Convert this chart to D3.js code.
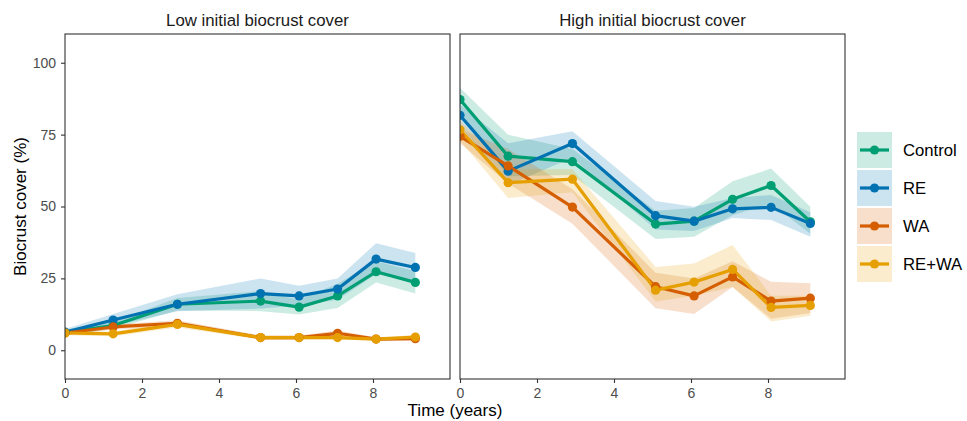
<!DOCTYPE html>
<html>
<head>
<meta charset="utf-8">
<script src="https://cdnjs.cloudflare.com/ajax/libs/d3/7.8.5/d3.min.js"></script>
<style>
  body { margin: 0; background: #fff; }
  svg { font-family: "Liberation Sans", Arial, sans-serif; }
</style>
</head>
<body>
<svg id="chart" width="967" height="421"></svg>
<script>
// time points (years)
var times = [0, 1.25, 2.92, 5.08, 6.08, 7.08, 8.08, 9.1];
var treatments = ["Control", "RE", "WA", "RE+WA"];
var colors = ["#009E73", "#0072B2", "#D55E00", "#E69F00"];
var panels = ["Low initial biocrust cover", "High initial biocrust cover"];

// Low initial cover: mean, lower, upper
var lowControl = [6.2, 8.6, 16.0, 17.1, 15.0, 18.9, 27.3, 23.6];
var lowControlLo = [5.2, 7.4, 13.8, 13.6, 12.4, 14.7, 23.6, 19.7];
var lowControlHi = [7.2, 9.8, 18.2, 20.6, 17.6, 23.1, 31.0, 27.5];
var lowRE = [6.3, 10.5, 16.0, 19.7, 18.9, 21.3, 31.7, 28.8];
var lowRELo = [5.3, 8.4, 13.6, 14.5, 15.6, 17.6, 26.4, 23.9];
var lowREHi = [7.4, 12.6, 19.5, 25.0, 22.4, 25.0, 37.2, 33.8];
var lowWA = [6.0, 8.1, 9.4, 4.4, 4.4, 5.9, 3.9, 4.0];
var lowWALo = [5.2, 7.2, 8.4, 3.7, 3.7, 4.9, 3.3, 3.4];
var lowWAHi = [6.8, 9.0, 10.4, 5.1, 5.1, 6.9, 4.5, 4.6];
var lowREWA = [6.0, 5.7, 9.0, 4.4, 4.4, 4.4, 3.9, 4.6];
var lowREWALo = [5.2, 4.9, 7.9, 3.7, 3.7, 3.7, 3.3, 3.9];
var lowREWAHi = [6.8, 6.5, 10.1, 5.1, 5.1, 5.1, 4.5, 5.3];

// High initial cover: mean, lower, upper
var highControl = [87.2, 67.5, 65.6, 43.9, 44.9, 52.5, 57.3, 44.7];
var highControlLo = [83.0, 60.5, 61.0, 38.7, 39.5, 47.0, 51.0, 40.5];
var highControlHi = [91.3, 75.0, 70.0, 48.5, 49.5, 58.8, 63.2, 49.9];
var highRE = [81.7, 62.3, 71.9, 46.8, 44.9, 49.2, 49.7, 44.1];
var highRELo = [78.0, 57.5, 67.0, 42.0, 41.5, 46.0, 45.3, 39.5];
var highREHi = [85.5, 72.0, 76.2, 51.9, 49.9, 53.0, 54.0, 48.0];
var highWA = [74.4, 64.1, 49.8, 22.1, 18.9, 25.5, 17.1, 18.1];
var highWALo = [72.0, 58.0, 44.0, 14.6, 12.6, 22.0, 11.0, 13.0];
var highWAHi = [77.0, 70.0, 56.0, 27.0, 25.0, 31.0, 23.8, 23.3];
var highREWA = [76.7, 58.3, 59.5, 20.9, 23.7, 28.1, 14.9, 15.6];
var highREWALo = [73.0, 53.0, 55.0, 17.0, 19.0, 22.0, 10.0, 12.0];
var highREWAHi = [80.0, 63.0, 63.0, 29.0, 30.2, 36.6, 19.0, 19.0];

var yTicks = [0, 25, 50, 75, 100];
var xTicks = [0, 2, 4, 6, 8];

var panelData = [
  [[lowControl, lowControlLo, lowControlHi], [lowRE, lowRELo, lowREHi],
   [lowWA, lowWALo, lowWAHi], [lowREWA, lowREWALo, lowREWAHi]],
  [[highControl, highControlLo, highControlHi], [highRE, highRELo, highREHi],
   [highWA, highWALo, highWAHi], [highREWA, highREWALo, highREWAHi]]
];

var svg = d3.select("#chart");
var top_ = 34, bottom = 379;
var panelLeft = [65, 460], panelW = 385;
var font = "Liberation Sans, Arial, sans-serif";

var y = d3.scaleLinear().domain([-10, 110]).range([bottom, top_]);

panels.forEach(function(title, p) {
  var x = d3.scaleLinear().domain([0, 10]).range([panelLeft[p], panelLeft[p] + panelW]);
  var g = svg.append("g");

  svg.append("defs").append("clipPath").attr("id", "clip" + p)
     .append("rect").attr("x", panelLeft[p]).attr("y", top_)
     .attr("width", panelW).attr("height", bottom - top_);

  var plot = g.append("g").attr("clip-path", "url(#clip" + p + ")");

  var area = d3.area()
      .x(function(d) { return x(d.t); })
      .y0(function(d) { return y(d.lo); })
      .y1(function(d) { return y(d.hi); });
  var line = d3.line()
      .x(function(d) { return x(d.t); })
      .y(function(d) { return y(d.v); });

  var series = panelData[p].map(function(s, i) {
    return times.map(function(t, k) { return { t: t, v: s[0][k], lo: s[1][k], hi: s[2][k], i: i }; });
  });

  // ribbons
  series.forEach(function(s, i) {
    plot.append("path").attr("d", area(s))
        .attr("fill", colors[i]).attr("fill-opacity", 0.2);
  });
  // lines
  series.forEach(function(s, i) {
    plot.append("path").attr("d", line(s))
        .attr("fill", "none").attr("stroke", colors[i])
        .attr("stroke-width", 3.2).attr("stroke-linejoin", "round");
  });
  // points
  series.forEach(function(s, i) {
    plot.selectAll(null).data(s).enter().append("circle")
        .attr("cx", function(d) { return x(d.t); })
        .attr("cy", function(d) { return y(d.v); })
        .attr("r", 4.6)
        .attr("fill", colors[i]);
  });

  // panel border
  g.append("rect").attr("x", panelLeft[p]).attr("y", top_)
   .attr("width", panelW).attr("height", bottom - top_)
   .attr("fill", "none").attr("stroke", "#333").attr("stroke-width", 1.1);

  // x axis
  var xAxis = d3.axisBottom(x).tickValues(xTicks).tickSize(4).tickPadding(5).tickSizeOuter(0);
  var xa = svg.append("g").attr("transform", "translate(0," + bottom + ")").call(xAxis);
  xa.select(".domain").remove();
  xa.selectAll("line").attr("stroke", "#333").attr("stroke-width", 1.1);
  xa.selectAll("text").attr("fill", "#4D4D4D").style("font-size", "14px").style("font-family", font);

  if (p === 0) {
    var yAxis = d3.axisLeft(y).tickValues(yTicks).tickSize(4).tickPadding(5).tickSizeOuter(0);
    var ya = svg.append("g").attr("transform", "translate(" + panelLeft[p] + ",0)").call(yAxis);
    ya.select(".domain").remove();
    ya.selectAll("line").attr("stroke", "#333").attr("stroke-width", 1.1);
    ya.selectAll("text").attr("fill", "#4D4D4D").style("font-size", "14px").style("font-family", font);
  }

  // strip title
  svg.append("text").attr("x", panelLeft[p] + panelW / 2).attr("y", 26)
     .attr("text-anchor", "middle").style("font-size", "16.8px").attr("fill", "#1a1a1a")
     .text(title);
});

// axis titles
svg.append("text").attr("x", 455).attr("y", 416)
   .attr("text-anchor", "middle").style("font-size", "17px").attr("fill", "#000")
   .text("Time (years)");
svg.append("text").attr("transform", "translate(26," + ((top_ + bottom) / 2) + ") rotate(-90)")
   .attr("text-anchor", "middle").style("font-size", "17px").attr("fill", "#000")
   .text("Biocrust cover (%)");

// legend
var legend = svg.append("g").attr("transform", "translate(857,132)");
treatments.forEach(function(name, i) {
  var k = legend.append("g").attr("transform", "translate(0," + (i * 38) + ")");
  k.append("rect").attr("width", 35).attr("height", 36)
   .attr("fill", colors[i]).attr("fill-opacity", 0.2);
  k.append("line").attr("x1", 3).attr("x2", 32).attr("y1", 18).attr("y2", 18)
   .attr("stroke", colors[i]).attr("stroke-width", 3.2);
  k.append("circle").attr("cx", 17.5).attr("cy", 18).attr("r", 4.6).attr("fill", colors[i]);
  k.append("text").attr("x", 46).attr("y", 18).attr("dy", "0.36em")
   .style("font-size", "16.7px").attr("fill", "#000").text(name);
});
</script>
</body>
</html>
